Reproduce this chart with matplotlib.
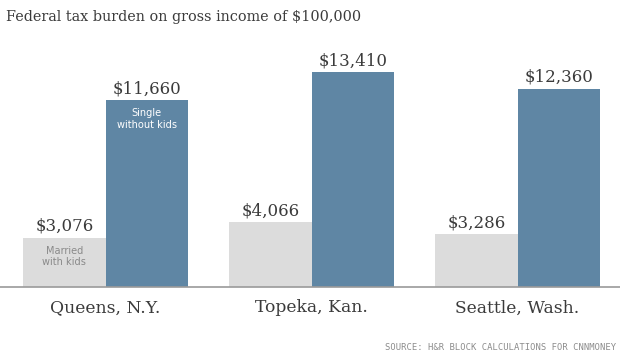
import numpy as np
import matplotlib.pyplot as plt

cities = ['Queens, N.Y.', 'Topeka, Kan.', 'Seattle, Wash.']
married = [3076, 4066, 3286]
single = [11660, 13410, 12360]

gray = '#dcdcdc'
blue = '#5f86a4'
dark = '#3b3b3b'

fig = plt.figure(figsize=(6.2, 3.54), dpi=100)
ax = fig.add_axes([0, 67 / 354, 1, 247 / 354])

x = np.arange(len(cities))
w = 0.4
ax.bar(x - w / 2, married, w, color=gray, align='center')
ax.bar(x + w / 2, single, w, color=blue, align='center')

for i in range(len(cities)):
    ax.annotate(f'${married[i]:,}', (x[i] - w / 2, married[i]), xytext=(0, 2),
                textcoords='offset points', ha='center', va='bottom',
                fontsize=12, family='DejaVu Serif', color=dark)
    ax.annotate(f'${single[i]:,}', (x[i] + w / 2, single[i]), xytext=(0, 2),
                textcoords='offset points', ha='center', va='bottom',
                fontsize=12, family='DejaVu Serif', color=dark)
    ax.text(x[i], -0.085, cities[i], transform=ax.get_xaxis_transform(),
            ha='center', va='center', fontsize=12.3, family='DejaVu Serif',
            color=dark)

# inner series labels on the first group
ax.annotate('Single\nwithout kids', (x[0] + w / 2, single[0]), xytext=(0, -6),
            textcoords='offset points', ha='center', va='top', fontsize=7.8,
            family='DejaVu Sans', stretch='condensed', color='white', linespacing=1.15)
ax.annotate('Married\nwith kids', (x[0] - w / 2, married[0]), xytext=(0, -6),
            textcoords='offset points', ha='center', va='top', fontsize=7.8,
            family='DejaVu Sans', stretch='condensed', color='#8a8a8a', linespacing=1.15)

ax.set_xlim(-105.5 / 206, (620 - 105.5) / 206)
ax.set_ylim(0, 15400)
ax.axhline(0, color='#9a9a9a', lw=1.2, clip_on=False)
ax.axis('off')

fig.text(6 / 620, 1 - 17 / 354, 'Federal tax burden on gross income of $100,000',
         ha='left', va='center', fontsize=10.4, family='DejaVu Serif', color=dark)
fig.text(616 / 620, 1 - 347 / 354, 'SOURCE: H&R BLOCK CALCULATIONS FOR CNNMONEY',
         ha='right', va='center', fontsize=6.4, family='DejaVu Sans Mono', color='#8c8c8c')

plt.savefig('out.png', dpi=100)
